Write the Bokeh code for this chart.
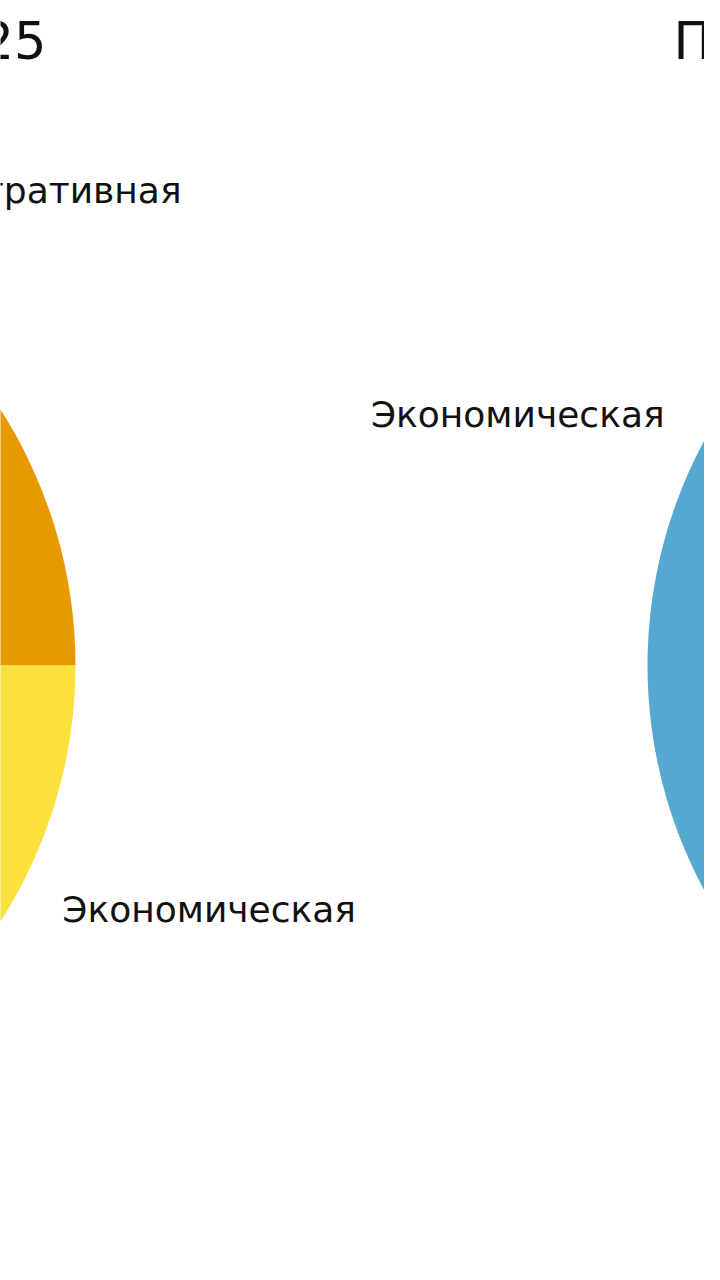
import numpy as np
from bokeh.plotting import figure
from bokeh.models import Range1d, ColumnDataSource
from bokeh.core.properties import value
from bokeh.embed import file_html
from bokeh.resources import INLINE

# ---- data ----
left_title = "Распределение по категориям, 2025"
right_title = "По категориям обращений, 2025"
left_categories = ["Административная", "Социальная", "Политическая", "Экономическая"]
left_values = [36.5, 26.5, 21.5, 15.5]
right_categories = ["Административная", "Экономическая", "Социальная", "Политическая"]
right_values = [22, 40, 20, 18]
palette = ["#E69A00", "#55A8D0", "#009E73", "#FCE03C"]

# ---- layout (reference pixel coordinates, y measured from top) ----
W, H = 704, 1264
REF_H = 1280
R = 474
CY = REF_H - 665
CX_LEFT = -399
CX_RIGHT = 1121
FONT = "DejaVu Sans"

p = figure(width=W, height=H, output_backend="svg", toolbar_location=None,
           x_range=Range1d(0, W), y_range=Range1d(REF_H - H, REF_H),
           min_border=0, background_fill_color="white", border_fill_color="white")
p.axis.visible = False
p.grid.visible = False
p.outline_line_color = None


def pie(cx, cats, vals):
    v = np.array(vals, dtype=float)
    frac = v / v.sum()
    ends = np.cumsum(frac) * 2 * np.pi
    starts = np.concatenate([[0.0], ends[:-1]])
    mids = (starts + ends) / 2
    src = ColumnDataSource(dict(start=starts, end=ends, color=palette[:len(v)]))
    p.wedge(x=cx, y=CY, radius=R, start_angle="start", end_angle="end",
            fill_color="color", line_color=None, source=src)
    lx = cx + 1.1 * R * np.cos(mids)
    ly = CY + 1.1 * R * np.sin(mids)
    align = ["left" if c >= 0 else "right" for c in np.cos(mids)]
    lsrc = ColumnDataSource(dict(x=lx, y=ly, t=cats, a=align))
    p.text(x="x", y="y", text="t", text_align="a", text_baseline="middle",
           text_font=value(FONT), text_font_size="36px", text_color="#111111",
           source=lsrc)


pie(CX_LEFT, left_categories, left_values)
pie(CX_RIGHT, right_categories, right_values)

TITLE_Y = REF_H - 41
p.text(x=[46], y=[TITLE_Y], text=[left_title], text_align="right",
       text_baseline="alphabetic", text_font=value(FONT), text_font_size="51px",
       text_color="#111111")
p.text(x=[673], y=[TITLE_Y], text=[right_title], text_align="left",
       text_baseline="alphabetic", text_font=value(FONT), text_font_size="51px",
       text_color="#111111")

open("out.html", "w").write(file_html(p, INLINE))
